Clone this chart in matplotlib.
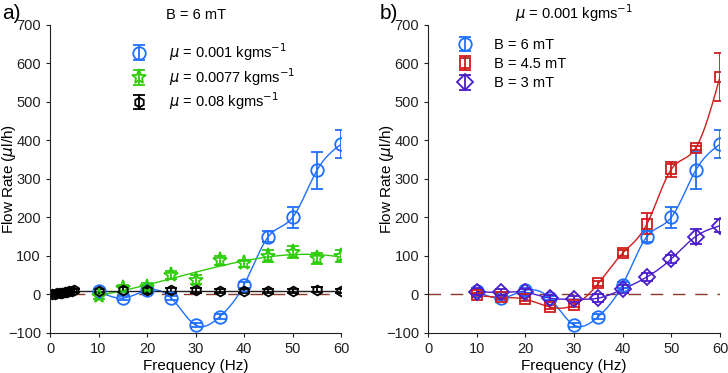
import numpy as np
import matplotlib.pyplot as plt

# frequencies (Hz)
freq = [10, 15, 20, 25, 30, 35, 40, 45, 50, 55, 60]
freq_low = [0.5, 1, 1.5, 2, 2.5, 3, 3.5, 4, 4.5, 5]

# panel a: B = 6 mT, different viscosities
mu001 = [8, -10, 10, -10, -80, -58, 25, 150, 200, 322, 390]
mu001_err = [6, 6, 6, 6, 6, 6, 8, 15, 27, 48, 37]
mu0077 = [-5, 15, 20, 50, 38, 88, 80, 100, 110, 93, 100]
mu0077_err = [8, 10, 10, 10, 12, 12, 10, 15, 15, 15, 15]
mu08_low = [0, 1, 2, 3, 4, 5, 7, 8, 9, 10]
mu08 = [8, 12, 10, 10, 10, 8, 8, 8, 8, 12, 8]
mu08_err = [6, 6, 6, 6, 6, 6, 6, 6, 6, 6, 6]

# panel b: mu = 0.001, different fields
b45 = [-3, -8, -13, -33, -28, 28, 107, 183, 325, 380, 565]
b45_err = [5, 5, 5, 6, 6, 6, 8, 27, 20, 5, 63]
b3 = [7, 5, 5, -10, -13, -10, 13, 45, 92, 150, 178]
b3_err = [8, 8, 8, 8, 8, 10, 10, 10, 10, 20, 17]

blue = '#1f6fff'
green = '#2ecc0a'
red = '#d01c1c'
purple = '#4a1ccc'
brown = '#8b3a2a'


def spline(x, y, n=300):
    # natural cubic spline through the points
    x = np.asarray(x, float)
    y = np.asarray(y, float)
    h = np.diff(x)
    m = len(x)
    A = np.zeros((m, m))
    r = np.zeros(m)
    A[0, 0] = A[-1, -1] = 1
    for i in range(1, m - 1):
        A[i, i - 1] = h[i - 1]
        A[i, i] = 2 * (h[i - 1] + h[i])
        A[i, i + 1] = h[i]
        r[i] = 6 * ((y[i + 1] - y[i]) / h[i] - (y[i] - y[i - 1]) / h[i - 1])
    M = np.linalg.solve(A, r)
    xs = np.linspace(x[0], x[-1], n)
    k = np.clip(np.searchsorted(x, xs) - 1, 0, m - 2)
    t0 = x[k + 1] - xs
    t1 = xs - x[k]
    hk = h[k]
    ys = (M[k] * t0**3 + M[k + 1] * t1**3) / (6 * hk) \
        + (y[k] / hk - M[k] * hk / 6) * t0 + (y[k + 1] / hk - M[k + 1] * hk / 6) * t1
    return xs, ys


def eb(ax, x, y, e, c, mk, ms, label=None):
    return ax.errorbar(x, y, yerr=e, fmt=mk, color=c, mfc='none', mec=c, ms=ms,
                       mew=1.3, capsize=4, elinewidth=1.3, capthick=1.3, label=label)


plt.rcParams['font.family'] = ['Liberation Sans', 'DejaVu Sans']
plt.rcParams['font.size'] = 10.5
plt.rcParams['mathtext.fontset'] = 'dejavusans'

fig = plt.figure(figsize=(7.28, 3.73), dpi=100)
ax1 = fig.add_axes([0.0687, 0.108, 0.4, 0.825])
ax2 = fig.add_axes([0.588, 0.108, 0.401, 0.825])

for ax in (ax1, ax2):
    ax.plot([0, 60], [0, 0], color=brown, lw=1, dashes=(9, 7), zorder=1)

# panel a
xs, ys = spline(freq, mu001)
ax1.plot(xs, ys, color=blue, lw=1)
p = np.polyfit(freq, mu0077, 3)
xg = np.linspace(10, 60, 200)
ax1.plot(xg, np.polyval(p, xg), color=green, lw=1)
ax1.plot([0, 60], [np.mean(mu08)] * 2, color='#222222', lw=1)

h1 = eb(ax1, freq, mu001, mu001_err, blue, 'o', 9)
h2 = eb(ax1, freq, mu0077, mu0077_err, green, '*', 11)
eb(ax1, freq_low, mu08_low, [4] * len(freq_low), 'black', 'h', 7)
h3 = eb(ax1, freq, mu08, mu08_err, 'black', 'h', 7)
ax1.legend([h1, h2, h3],
           [r'$\mu$ = 0.001 kgms$^{-1}$', r'$\mu$ = 0.0077 kgms$^{-1}$',
            r'$\mu$ = 0.08 kgms$^{-1}$'],
           loc='upper left', bbox_to_anchor=(0.232, 0.99), frameon=False,
           handlelength=1.2, handletextpad=1.4, labelspacing=0.2)
ax1.set_title('B = 6 mT', fontsize=10.5, pad=4)

# panel b
for vals, c in ((mu001, blue), (b45, red), (b3, purple)):
    xs, ys = spline(freq, vals)
    ax2.plot(xs, ys, color=c, lw=1)
g1 = eb(ax2, freq, mu001, mu001_err, blue, 'o', 9)
g2 = eb(ax2, freq, b45, b45_err, red, 's', 7)
g3 = eb(ax2, freq, b3, b3_err, purple, 'D', 8)
ax2.legend([g1, g2, g3], ['B = 6 mT', 'B = 4.5 mT', 'B = 3 mT'],
           loc='upper left', bbox_to_anchor=(0.052, 1.0), frameon=False,
           handlelength=1.2, handletextpad=1.4, labelspacing=0.35)
ax2.set_title(r'$\mu$ = 0.001 kgms$^{-1}$', fontsize=10.5, pad=4)

for ax in (ax1, ax2):
    ax.set_xlim(0, 60)
    ax.set_ylim(-100, 700)
    ax.set_xticks(range(0, 61, 10))
    ax.set_yticks(range(-100, 701, 100))
    ax.spines['top'].set_visible(False)
    ax.spines['right'].set_visible(False)
    ax.spines['left'].set_color('#222222')
    ax.spines['bottom'].set_color('#222222')
    ax.tick_params(direction='out', length=3, colors='#222222', labelsize=10.5)
    ax.set_xlabel('Frequency (Hz)', fontsize=11, labelpad=2)
    ax.set_ylabel(r'Flow Rate ($\mu$l/h)', fontsize=11)
    ax.yaxis.set_label_coords(-0.11, 0.5)

fig.text(0.003, 0.965, 'a)', fontsize=15, va='center')
fig.text(0.522, 0.965, 'b)', fontsize=15, va='center')

fig.savefig('out.png', dpi=100)
